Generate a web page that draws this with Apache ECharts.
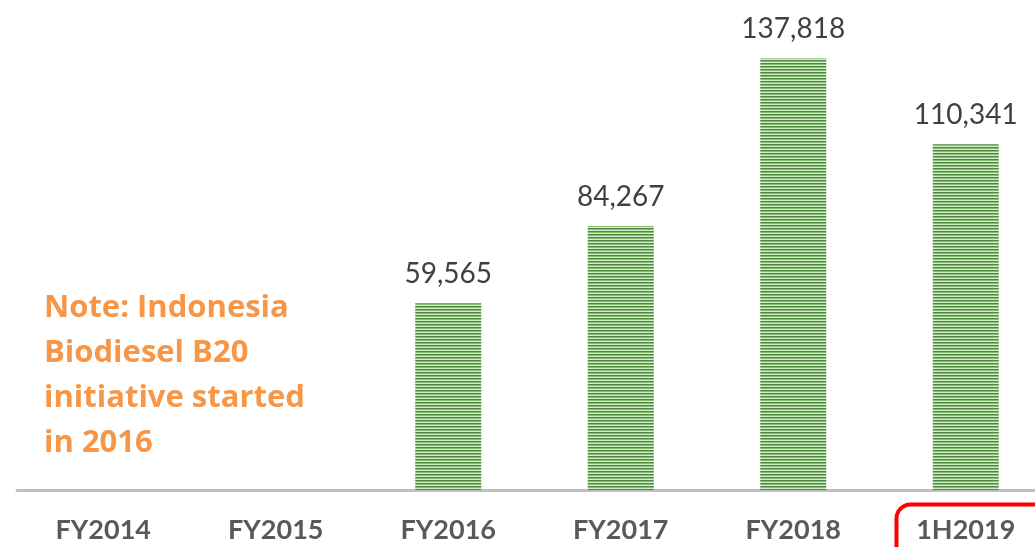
<!DOCTYPE html>
<html><head><meta charset="utf-8">
<script src="https://cdn.jsdelivr.net/npm/echarts@6/dist/echarts.min.js"></script>
<style>html,body{margin:0;padding:0;background:#fff}#c{width:1035px;height:547px}</style>
</head><body><div id="c"></div>
<script>
var categories = ['FY2014','FY2015','FY2016','FY2017','FY2018','1H2019'];
var values = [null, null, 59565, 84267, 137818, 110341];
var noteLines = ['Note: Indonesia','Biodiesel B20','initiative started','in 2016'];

var pc = document.createElement('canvas');
pc.width = 4; pc.height = 3;
var g = pc.getContext('2d');
g.fillStyle = '#4B8B3B'; g.fillRect(0,0,4,1);
g.fillStyle = '#86BC73'; g.fillRect(0,1,4,1);
g.fillStyle = '#D6EBCE'; g.fillRect(0,2,4,1);

var chart = echarts.init(document.getElementById('c'));
chart.setOption({
  animation:false,
  grid:{left:17,width:1035,top:20,bottom:57,outerBoundsMode:'none',containLabel:false},
  xAxis:{type:'category',data:categories,
    axisLine:{lineStyle:{color:'#BFBFBF',width:3}},
    axisTick:{show:false},
    axisLabel:{color:'#595959',fontSize:27,fontWeight:'bold',fontFamily:'Lato, "Open Sans", sans-serif',margin:27}},
  yAxis:{type:'value',min:0,max:150000,show:false,splitLine:{show:false}},
  series:[{type:'bar',data:values,barWidth:66,
    itemStyle:{color:{image:pc,repeat:'repeat'}},
    label:{show:true,position:'top',distance:15,color:'#404040',fontSize:28,fontFamily:'Lato, "Open Sans", sans-serif',
      formatter:function(p){return p.value==null?'':p.value.toLocaleString('en-US');}}}],
  graphic:[
    {type:'text',left:44,top:286,style:{text:noteLines.join('\n'),fill:'#F79646',fontFamily:'Open Sans',fontWeight:'bold',fontSize:31,lineHeight:45}},
    {type:'rect',left:894,top:502,shape:{width:160,height:70,r:14},style:{fill:'none',stroke:'#FF0000',lineWidth:4}}
  ]
});
</script></body></html>
